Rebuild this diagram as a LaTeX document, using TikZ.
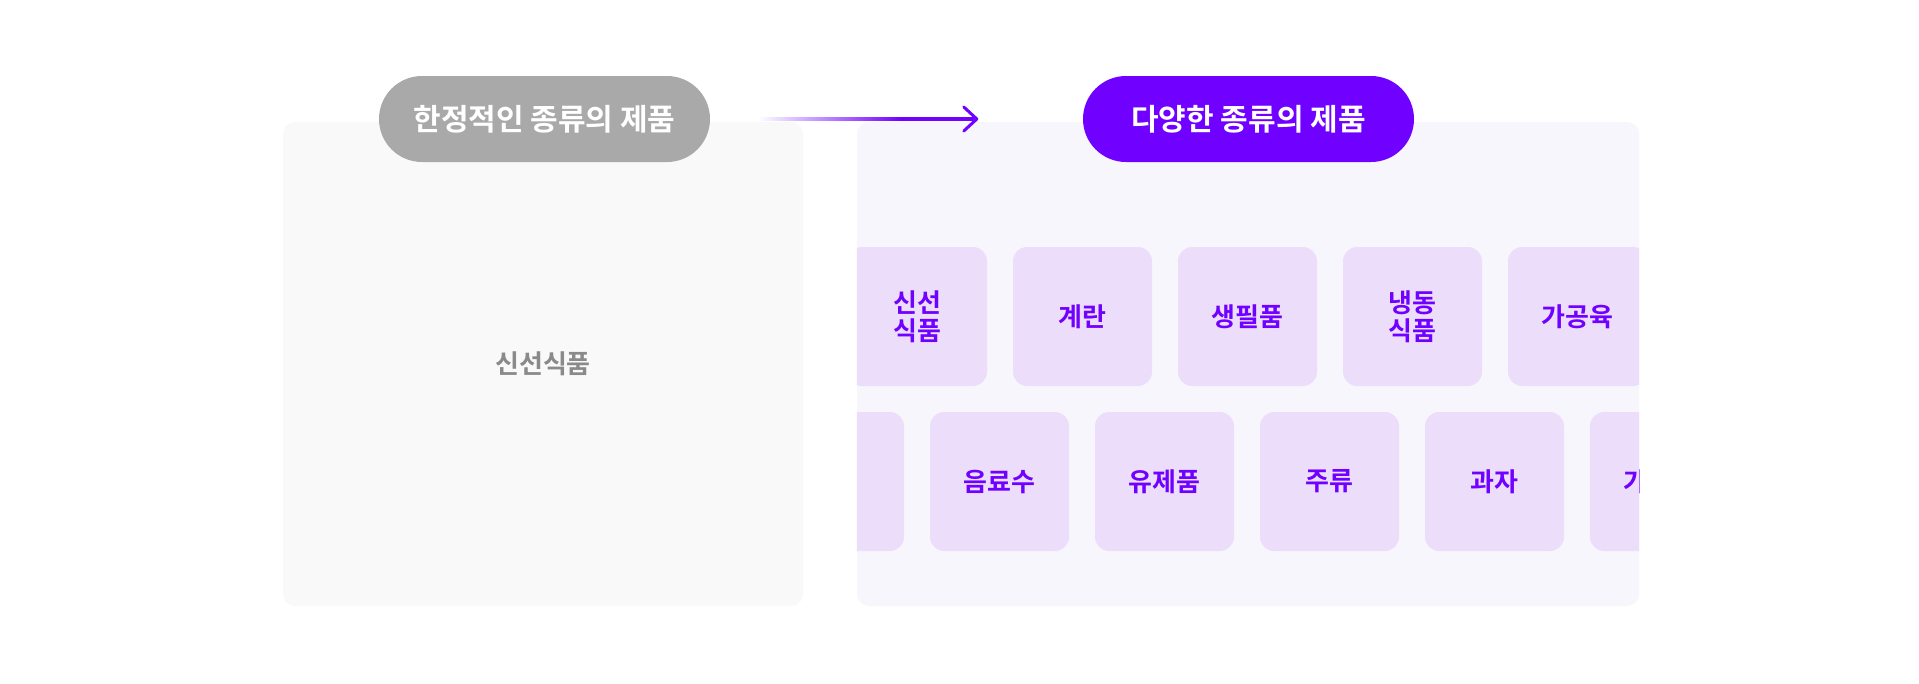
\documentclass[tikz,border=0pt]{standalone}
\usepackage{fontspec}
\setmainfont{Noto Sans CJK KR}[BoldFont={Noto Sans CJK KR Bold}]
\usetikzlibrary{positioning}
\definecolor{brandviolet}{HTML}{7000FF}
\definecolor{pillgray}{HTML}{A9A9A9}
\definecolor{panelgray}{HTML}{F9F9F9}
\definecolor{panelviolet}{HTML}{F8F6FD}
\definecolor{cardviolet}{HTML}{ECDEFB}
\definecolor{labelgray}{HTML}{8A8A8A}
\pgfdeclarehorizontalshading{arrowfade}{100bp}{color(0bp)=(white); color(25bp)=(white); color(58bp)=(brandviolet); color(100bp)=(brandviolet)}

\begin{document}
\begin{tikzpicture}[x=1pt,y=-1pt,
    panel/.style={rounded corners=12pt,minimum height=484pt,inner sep=0pt},
    pill/.style={rounded corners=43pt,minimum width=331pt,minimum height=86pt,inner sep=0pt,text=white,font=\fontsize{30}{34}\selectfont\bfseries},
    card/.style={fill=cardviolet,rounded corners=14pt,minimum width=139pt,minimum height=139pt,inner sep=0pt,text=brandviolet,align=center,font=\fontsize{26}{28}\selectfont\bfseries}]
    \useasboundingbox[fill=white] (0,0) rectangle (1919,683);
    \node[panel,fill=panelgray,minimum width=520pt,text=labelgray,font=\fontsize{26}{28}\selectfont\bfseries] (limited) at (543,364) {신선식품};
    \node[panel,fill=panelviolet,minimum width=782pt] (various) at (1248,364) {};
    \begin{scope}
        \clip[rounded corners=12pt] (various.south west) rectangle (various.north east);
        \foreach \x/\name [count=\i] in {917.5/{신선\\식품},1082.5/계란,1247.5/생필품,1412.5/{냉동\\식품},1577.5/가공육}
            \node[card] (top-\i) at (\x,316.5) {\name};
        \foreach \x/\name [count=\i] in {834.5/{},999.5/음료수,1164.5/유제품,1329.5/주류,1494.5/과자,1659.5/{}}
            \node[card] (bottom-\i) at (\x,481.5) {\name};
        \node[text=brandviolet,font=\fontsize{26}{28}\selectfont\bfseries,inner sep=0pt,anchor=west] (bottom-6-text) at (1623,481.5) {가};
    \end{scope}
    \node[pill,fill=pillgray] (limited-title) at (544.5,119) {한정적인 종류의 제품};
    \node[pill,fill=brandviolet] (various-title) at (1248.5,119) {다양한 종류의 제품};
    \coordinate (arrow-from) at ([xshift=48pt]limited-title.east);
    \coordinate (arrow-to) at ([xshift=-106pt]various-title.west);
    \shade[shading=arrowfade] ([yshift=-1.5pt]arrow-from) rectangle ([xshift=-2pt,yshift=1.5pt]arrow-to);
    \draw[brandviolet,line width=3pt,line cap=round,line join=round] ([xshift=-13pt,yshift=-12pt]arrow-to) -- (arrow-to) -- ([xshift=-13pt,yshift=12pt]arrow-to);
\end{tikzpicture}
\end{document}
